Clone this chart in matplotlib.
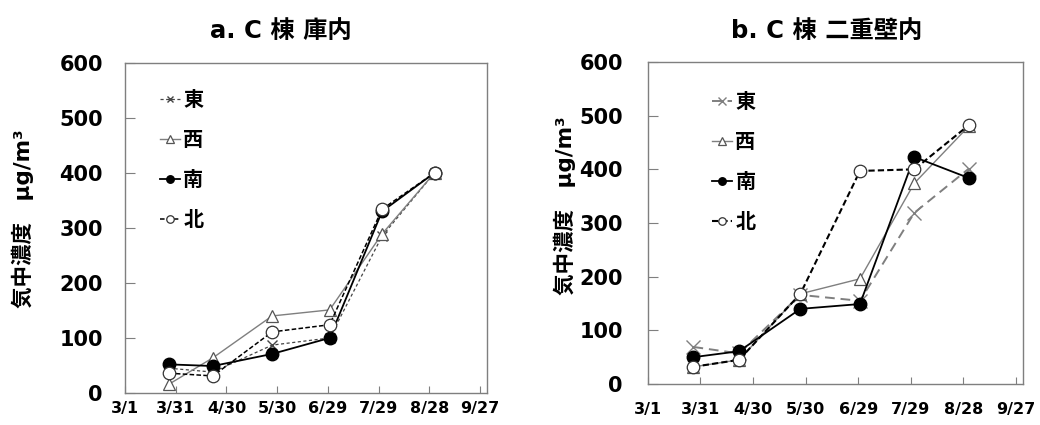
from datetime import datetime, timedelta

import matplotlib

matplotlib.use("Agg")

import matplotlib.pyplot as plt


# ==========================================================
# Data
# ==========================================================

SAMPLE_DATES = ["2011-03-27", "2011-04-22", "2011-05-27",
                "2011-06-30", "2011-07-31", "2011-08-31"]

TICK_DATES = ["2011-03-01", "2011-03-31", "2011-04-30", "2011-05-30",
              "2011-06-29", "2011-07-29", "2011-08-28", "2011-09-27"]

TICK_LABELS = ["3/1", "3/31", "4/30", "5/30", "6/29", "7/29", "8/28", "9/27"]

SERIES_NAMES = ["東", "西", "南", "北"]

# a. C棟 庫内
INNER_EAST = [45, 38, 87, 100, 285, 400]
INNER_WEST = [16, 64, 140, 151, 289, 400]
INNER_SOUTH = [52, 49, 71, 100, 330, 400]
INNER_NORTH = [36, 31, 111, 124, 334, 400]

# b. C棟 二重壁内
WALL_EAST = [69, 57, 166, 155, 319, 401]
WALL_WEST = [32, 45, 168, 196, 374, 480]
WALL_SOUTH = [50, 61, 140, 149, 423, 384]
WALL_NORTH = [32, 45, 168, 397, 400, 482]

TITLES = ["a. C 棟 庫内", "b. C 棟 二重壁内"]
Y_LABEL = "気中濃度　μg/m³"


# ==========================================================
# Style
# ==========================================================

# DejaVu for the wide latin digits, Noto CJK for the kanji
plt.rcParams["font.family"] = ["DejaVu Sans", "Noto Sans CJK JP"]
plt.rcParams["font.weight"] = "bold"

GRAY = "#7f7f7f"

INNER_STYLES = [
    dict(color="#444444", linestyle=(0, (2.5, 2)), linewidth=0.9,
         marker="x", markersize=7, markeredgewidth=1.0),
    dict(color=GRAY, linestyle="-", linewidth=1.0,
         marker="^", markersize=9, markerfacecolor="white",
         markeredgecolor="#555555", markeredgewidth=0.9),
    dict(color="black", linestyle="-", linewidth=1.3,
         marker="o", markersize=9, markerfacecolor="black"),
    dict(color="black", linestyle=(0, (3, 1.5)), linewidth=1.1,
         marker="o", markersize=9, markerfacecolor="white",
         markeredgecolor="#333333", markeredgewidth=0.9),
]

WALL_STYLES = [
    dict(color=GRAY, linestyle=(0, (5, 3)), linewidth=1.4,
         marker="x", markersize=10, markeredgewidth=1.0),
    dict(color=GRAY, linestyle="-", linewidth=1.0,
         marker="^", markersize=9, markerfacecolor="white",
         markeredgecolor="#555555", markeredgewidth=0.9),
    dict(color="black", linestyle="-", linewidth=1.3,
         marker="o", markersize=9, markerfacecolor="black"),
    dict(color="black", linestyle=(0, (3, 1.5)), linewidth=1.5,
         marker="o", markersize=9, markerfacecolor="white",
         markeredgecolor="#333333", markeredgewidth=0.9),
]


def to_dates(values):
    return [datetime.strptime(v, "%Y-%m-%d") for v in values]


# ==========================================================
# Panel
# ==========================================================

def draw_panel(ax, series, styles, ypad, xpad, legend_anchor):
    dates = to_dates(SAMPLE_DATES)
    ticks = to_dates(TICK_DATES)

    for name, values, style in zip(SERIES_NAMES, series, styles):
        ax.plot(dates, values, label=name, **style)

    ax.set_xlim(ticks[0], ticks[0] + timedelta(days=214))
    ax.set_ylim(0, 600)

    ax.set_xticks(ticks)
    ax.set_xticklabels(TICK_LABELS, fontsize=11.5, fontweight="bold")
    ax.set_yticks(range(0, 601, 100))
    ax.tick_params(axis="y", direction="in", length=7, width=0.8,
                   color=GRAY, pad=ypad, labelsize=15)
    ax.tick_params(axis="x", direction="in", length=5, width=0.8,
                   color=GRAY, pad=xpad)
    for lab in ax.get_yticklabels():
        lab.set_fontweight("bold")

    for spine in ax.spines.values():
        spine.set_color(GRAY)
        spine.set_linewidth(1.0)

    ax.legend(
        loc="upper left",
        bbox_to_anchor=legend_anchor,
        frameon=False,
        fontsize=14.5,
        handlelength=1.0,
        handletextpad=0.15,
        labelspacing=1.05,
        markerscale=0.6,
        borderaxespad=0,
    )


# ==========================================================
# Figure
# ==========================================================

fig = plt.figure(figsize=(10.4, 4.25), dpi=100)

ax_a = fig.add_axes([0.1202, 0.0753, 0.348, 0.777])
ax_b = fig.add_axes([0.623, 0.0965, 0.3606, 0.7576])

draw_panel(ax_a, [INNER_EAST, INNER_WEST, INNER_SOUTH, INNER_NORTH],
           INNER_STYLES, ypad=16, xpad=6, legend_anchor=(0.075, 0.94))
draw_panel(ax_b, [WALL_EAST, WALL_WEST, WALL_SOUTH, WALL_NORTH],
           WALL_STYLES, ypad=18, xpad=13, legend_anchor=(0.15, 0.93))

fig.text(0.270, 0.928, TITLES[0], ha="center", va="center",
         fontsize=17.5, fontweight="bold")
fig.text(0.795, 0.928, TITLES[1], ha="center", va="center",
         fontsize=17.5, fontweight="bold")

fig.text(0.022, 0.485, Y_LABEL, rotation=90, ha="center", va="center",
         fontsize=15.5, fontweight="bold")
fig.text(0.543, 0.515, Y_LABEL, rotation=90, ha="center", va="center",
         fontsize=15.5, fontweight="bold")

fig.savefig("out.png", dpi=100)
